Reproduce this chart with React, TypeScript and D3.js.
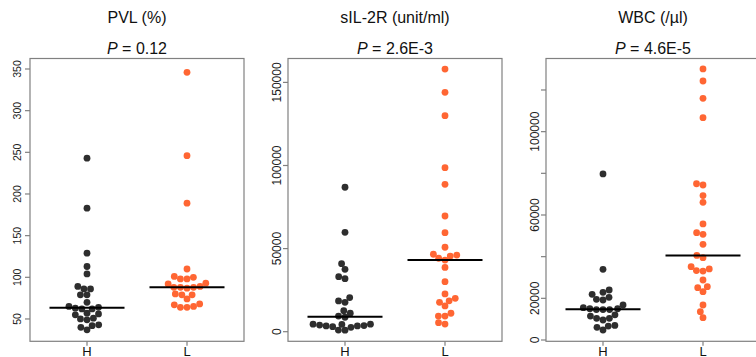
import React from "react";
import * as d3 from "d3";

const groups = ["H", "L"];
const titles = ["PVL (%)", "sIL-2R (unit/ml)", "WBC (/\u00b5l)"];
const pValues = ["0.12", "2.6E-3", "4.6E-5"];

const pvlH = [243, 183, 129, 113, 104, 89, 86, 86, 79, 79, 70, 65, 64, 63, 62, 62, 57, 56, 55, 51, 50, 49, 43, 42, 40, 37];
const pvlL = [346, 246, 189, 110, 101, 100, 98, 98, 93, 92, 89, 88, 88, 88, 87, 80, 79, 79, 74, 68, 67, 65, 64, 64];

const sil2rH = [86900, 59800, 40900, 37500, 33100, 31900, 20500, 18500, 17700, 12600, 11100, 9400, 8700, 4500, 4400, 4500, 4000, 3700, 3500, 3500, 3000, 2600, 1000, 900];
const sil2rL = [158000, 144000, 130000, 98700, 88700, 69600, 59600, 50800, 46600, 46100, 45500, 44200, 43100, 38700, 30100, 22700, 20100, 18600, 17700, 15500, 11100, 9400, 9400, 5400, 4600];

const wbcH = [79700, 33900, 24000, 22900, 21900, 20500, 19500, 19200, 16800, 15500, 15000, 15000, 14600, 14600, 14600, 12100, 11500, 10400, 10400, 9600, 7000, 6700, 6100, 4800];
const wbcL = [130100, 124300, 116000, 106700, 75000, 74400, 69300, 66100, 55700, 51500, 50700, 45900, 40600, 39500, 35200, 34100, 33300, 33100, 28800, 25600, 25100, 23200, 16800, 13600, 10700];

const pvlTicks = [50, 100, 150, 200, 250, 300, 350];
const sil2rTicks = [0, 50000, 100000, 150000];
const wbcTicks = [0, 20000, 40000, 60000, 80000, 100000, 120000];
const wbcTickLabels = ["0", "20000", "", "60000", "", "100000", ""];

const panels = [
  { title: titles[0], p: pValues[0], data: [pvlH, pvlL], ticks: pvlTicks, labels: pvlTicks.map(String), domain: [23.2, 362.6], left: 30, tickFont: 10.5, labOff: 9 },
  { title: titles[1], p: pValues[1], data: [sil2rH, sil2rL], ticks: sil2rTicks, labels: sil2rTicks.map(String), domain: [-5780, 164380], left: 288, tickFont: 12, labOff: 7 },
  { title: titles[2], p: pValues[2], data: [wbcH, wbcL], ticks: wbcTicks, labels: wbcTickLabels, domain: [-624, 135110], left: 546, tickFont: 12, labOff: 7 },
];

const colors = ["#2e2e2e", "#ff6633"];
const W = 756, H = 357;
const PW = 214, TOP = 58.5, BOTTOM = 341.3;
const R = 3.4, D = 6.6;

function swarm(values: number[], y: (v: number) => number) {
  const sorted = [...values].sort((a, b) => a - b);
  const placed: { x: number; y: number; v: number }[] = [];
  for (const v of sorted) {
    const py = y(v);
    const cands = [0];
    for (const p of placed) {
      const dy = Math.abs(p.y - py);
      if (dy < D) {
        const dx = Math.sqrt(D * D - dy * dy);
        cands.push(p.x + dx, p.x - dx);
      }
    }
    cands.sort((a, b) => Math.abs(a) - Math.abs(b) || a - b);
    let best = 0;
    for (const c of cands) {
      const ok = placed.every((p) => (p.x - c) ** 2 + (p.y - py) ** 2 >= D * D - 0.01);
      if (ok) { best = c; break; }
    }
    placed.push({ x: best, y: py, v });
  }
  return placed;
}

function Panel({ cfg }: { cfg: typeof panels[number] }) {
  const x = d3.scaleLinear().domain([0.43, 2.57]).range([cfg.left, cfg.left + PW]);
  const y = d3.scaleLinear().domain(cfg.domain).range([BOTTOM, TOP]);
  const cx = (cfg.left + cfg.left + PW) / 2;
  return (
    <g>
      <text x={cx} y={23} textAnchor="middle" fontSize={16} fontFamily="Liberation Sans, Arial, sans-serif" fill="#111">{cfg.title}</text>
      <text x={cx} y={54} textAnchor="middle" fontSize={16} fontFamily="Liberation Sans, Arial, sans-serif" fill="#111">
        <tspan fontStyle="italic">P</tspan>
        <tspan> = {cfg.p}</tspan>
      </text>
      <rect x={cfg.left} y={TOP} width={PW} height={BOTTOM - TOP} fill="none" stroke="#808080" strokeWidth={1.2} />
      {cfg.ticks.map((t, i) => (
        <g key={t}>
          <line x1={cfg.left - 5} x2={cfg.left} y1={y(t)} y2={y(t)} stroke="#808080" strokeWidth={1.2} />
          {cfg.labels[i] && (
            <text
              transform={`translate(${cfg.left - cfg.labOff},${y(t)}) rotate(-90)`}
              textAnchor="middle"
              fontSize={cfg.tickFont}
              fontFamily="Liberation Sans, Arial, sans-serif"
              fill="#222"
            >
              {cfg.labels[i]}
            </text>
          )}
        </g>
      ))}
      {groups.map((g, gi) => {
        const gx = x(gi + 1);
        const pts = swarm(cfg.data[gi], y);
        const med = d3.median(cfg.data[gi]) as number;
        return (
          <g key={g}>
            <line x1={gx} x2={gx} y1={BOTTOM} y2={BOTTOM + 4.5} stroke="#808080" strokeWidth={1.2} />
            <text x={gx} y={355.5} textAnchor="middle" fontSize={13} fontFamily="Liberation Sans, Arial, sans-serif" fill="#111">{g}</text>
            {pts.map((p, i) => (
              <circle key={i} cx={gx + p.x} cy={p.y} r={R} fill={colors[gi]} />
            ))}
            <line x1={x(gi + 1 - 0.375)} x2={x(gi + 1 + 0.375)} y1={y(med)} y2={y(med)} stroke="#000" strokeWidth={2} />
          </g>
        );
      })}
    </g>
  );
}

export default function App() {
  return (
    <svg width={W} height={H} style={{ position: "absolute", left: 0, top: 0, background: "#fff" }}>
      <rect width={W} height={H} fill="#fff" />
      {panels.map((p, i) => (
        <Panel key={i} cfg={p} />
      ))}
    </svg>
  );
}
